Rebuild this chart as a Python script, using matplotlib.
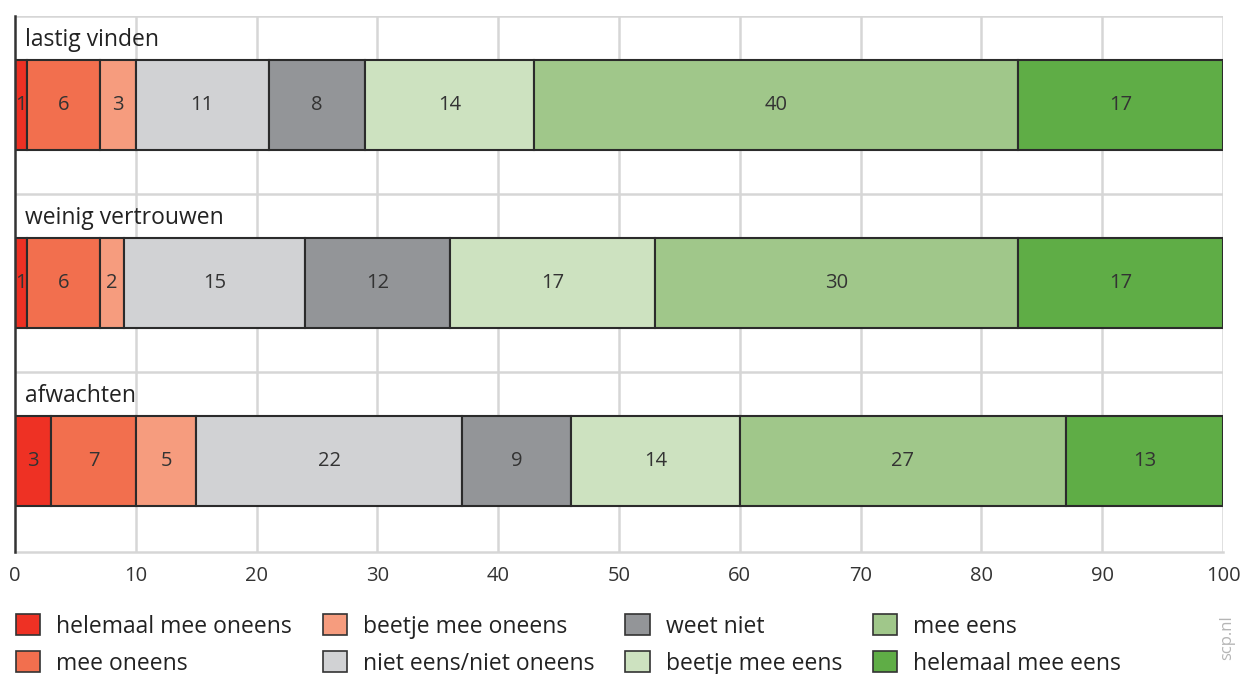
import matplotlib.pyplot as plt
from matplotlib.patches import Patch

# ------------ DATA -------------- #
statements = ['afwachten', 'weinig vertrouwen', 'lastig vinden']
categories = ['helemaal mee oneens', 'mee oneens', 'beetje mee oneens',
              'niet eens/niet oneens', 'weet niet', 'beetje mee eens',
              'mee eens', 'helemaal mee eens']
afwachten = [3, 7, 5, 22, 9, 14, 27, 13]
weinig_vertrouwen = [1, 6, 2, 15, 12, 17, 30, 17]
lastig_vinden = [1, 6, 3, 11, 8, 14, 40, 17]
xticks = [0, 10, 20, 30, 40, 50, 60, 70, 80, 90, 100]

colors = ['#ee3124', '#f26f4e', '#f69c7e', '#d1d2d4',
          '#939598', '#cde2c0', '#a0c78a', '#5fad46']
values = [afwachten, weinig_vertrouwen, lastig_vinden]

plt.rcParams['font.family'] = ['Open Sans', 'DejaVu Sans']

W, H = 1245, 674
fig = plt.figure(figsize=(W / 100, H / 100), dpi=100)
ax = fig.add_axes([15 / W, 1 - 552 / H, (1223 - 15) / W, (552 - 16) / H])

# ---------- bars ------------ #
for yi, row in enumerate(values):
    left = 0
    for val, col in zip(row, colors):
        ax.barh(yi, val, left=left, height=0.505, color=col,
                edgecolor='#2b2b2b', linewidth=1.5, zorder=3)
        ax.text(left + val / 2, yi, str(val), ha='center', va='center',
                fontsize=14.5, color='#333333', zorder=4)
        left += val
    ax.text(0.8, yi + 0.365, statements[yi], ha='left', va='center',
            fontsize=16.5, color='#222222', zorder=4)

ax.set_xlim(0, 100)
ax.set_ylim(-0.51, 2.5)
ax.set_xticks(xticks)
ax.set_xticklabels([str(t) for t in xticks], fontsize=14.5, color='#333333')
ax.set_yticks([])
ax.tick_params(axis='x', length=0, pad=10)
for yl in [0.5, 1.5, 2.5]:
    ax.axhline(yl, color='#d6d6d6', linewidth=1.8, zorder=1)
for xv in xticks[1:]:
    ax.axvline(xv, color='#d6d6d6', linewidth=1.8, zorder=1)
for s in ['top', 'right']:
    ax.spines[s].set_visible(False)
ax.spines['bottom'].set_color('#d6d6d6')
ax.spines['bottom'].set_linewidth(1.8)
ax.spines['left'].set_color('#333333')
ax.spines['left'].set_linewidth(1.8)
ax.spines['left'].set_zorder(5)

# ---------- legend ------------ #
handles = [Patch(facecolor=c, edgecolor='#333333', linewidth=1.2, label=l)
           for c, l in zip(colors, categories)]
fig.legend(handles=handles, ncol=4, loc='upper left', frameon=False,
           bbox_to_anchor=(7 / W, 1 - 605 / H), fontsize=16.5,
           handlelength=1.05, handleheight=1.05, handletextpad=0.7,
           columnspacing=1.35, labelspacing=0.55, borderaxespad=0,
           labelcolor='#222222')

fig.text(1227 / W, 1 - 638 / H, 'scp.nl', rotation=90, ha='center',
         va='center', fontsize=12, color='#b5b5b5')

fig.savefig('out.png', dpi=100)
